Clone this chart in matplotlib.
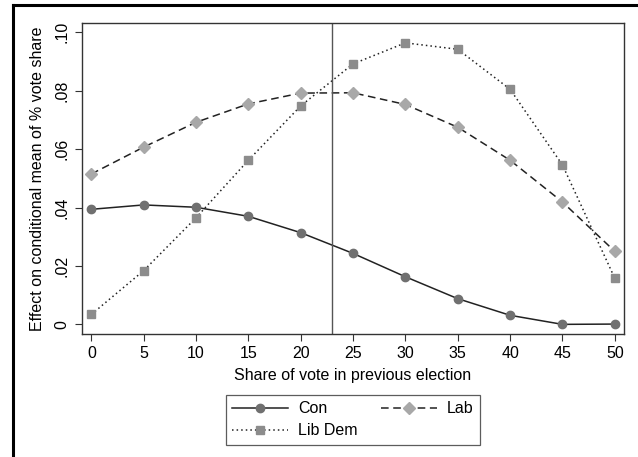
import numpy as np
import matplotlib
matplotlib.use("Agg")
import matplotlib.pyplot as plt
from matplotlib.lines import Line2D

# share of vote in previous election
share = [0, 5, 10, 15, 20, 25, 30, 35, 40, 45, 50]

con = [0.0394, 0.0409, 0.0401, 0.0370, 0.0314, 0.0243, 0.0163, 0.0088, 0.0031, 0.0000, 0.0001]
lab = [0.0515, 0.0607, 0.0692, 0.0755, 0.0792, 0.0793, 0.0753, 0.0675, 0.0562, 0.0419, 0.0250]
libdem = [0.0034, 0.0184, 0.0365, 0.0562, 0.0748, 0.0892, 0.0964, 0.0942, 0.0805, 0.0546, 0.0158]

cutoff = 23
yticks = [0, 0.02, 0.04, 0.06, 0.08, 0.10]
ytick_labels = ["0", ".02", ".04", ".06", ".08", ".10"]

plt.rcParams['font.family'] = ['Liberation Sans', 'DejaVu Sans']
fs = 11.5

fig = plt.figure(figsize=(6.38, 4.57), dpi=100)
ax = fig.add_axes([82 / 638, 1 - 334 / 457, (624 - 82) / 638, (334 - 23) / 457])

ax.plot(share, con, color='#222222', lw=1.1, ls='-', marker='o', ms=6,
        mfc='#707070', mec='#707070', label='Con')
ax.plot(share, libdem, color='#222222', lw=1.1, ls=(0, (1, 2)), marker='s', ms=6,
        mfc='#8c8c8c', mec='#8c8c8c', label='Lib Dem')
ax.plot(share, lab, color='#222222', lw=1.1, ls=(0, (5, 3)), marker='D', ms=6,
        mfc='#a8a8a8', mec='#a8a8a8', label='Lab')
ax.axvline(cutoff, color='#555555', lw=1.0)

ax.set_xlim(-0.89, 50.88)
ax.set_ylim(-0.0033, 0.1032)
ax.set_xticks(share)
ax.set_yticks(yticks)
ax.set_yticklabels(ytick_labels, rotation=90, va='center')
ax.tick_params(direction='out', length=5, width=0.8, color='#333333', labelsize=fs, pad=4)
for s in ax.spines.values():
    s.set_color('#333333')
    s.set_linewidth(1.0)

ax.set_xlabel("Share of vote in previous election", fontsize=fs, labelpad=5)
ax.set_ylabel("Effect on conditional mean of % vote share", fontsize=fs, labelpad=7)

leg = ax.legend(loc='upper center', bbox_to_anchor=(0.5, -0.17), ncol=2, fontsize=fs,
                frameon=True, fancybox=False, edgecolor='#333333', handlelength=3.5,
                numpoints=1, columnspacing=1.5, borderpad=0.4, labelspacing=0.45,
                handletextpad=0.6)
leg.get_frame().set_linewidth(0.9)

# outer frame (left and top only visible in the crop)
fig.add_artist(Line2D([13 / 638, 13 / 638], [0, 1 - 5 / 457], transform=fig.transFigure,
                      color='black', lw=2.2))
fig.add_artist(Line2D([13 / 638, 1], [1 - 5 / 457, 1 - 5 / 457], transform=fig.transFigure,
                      color='black', lw=2.2))

fig.savefig("out.png", dpi=100)
